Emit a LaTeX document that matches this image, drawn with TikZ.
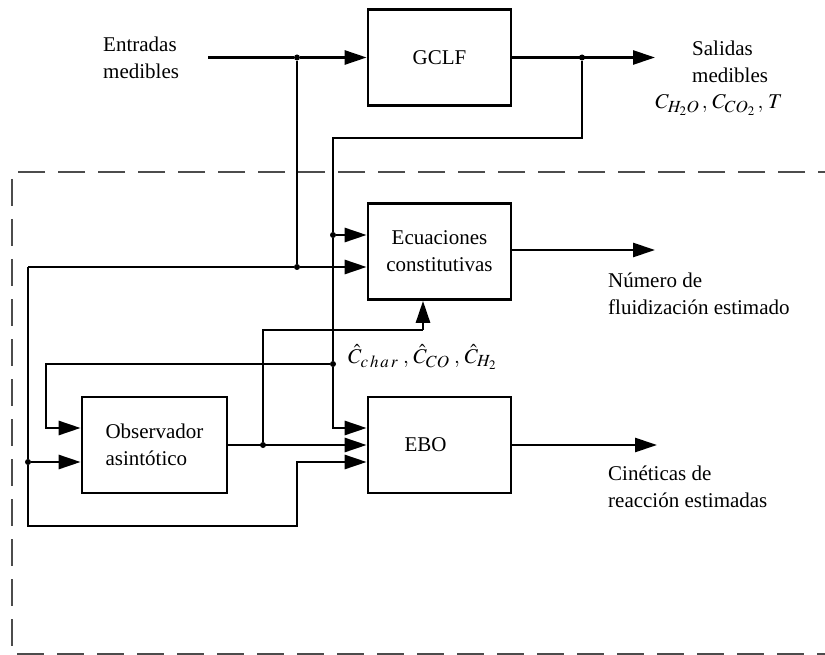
\documentclass[tikz,border=0pt]{standalone}
\usepackage{mathptmx}
\usepackage{fontspec}
\setmainfont{Liberation Serif}
\usetikzlibrary{arrows.meta}
\DeclareMathSizes{21}{21}{17}{13}
\begin{document}
\fontsize{21}{27}\selectfont
\begin{tikzpicture}[x=1pt,y=-1pt,
  blk/.style={draw,line width=2.7pt,minimum width=143pt,minimum height=96pt,inner sep=0pt,align=center},
  wire/.style={line width=2.7pt},
  arr/.style={wire,-{Triangle[length=22pt,width=14pt]}},
  dot/.style={circle,fill,inner sep=0pt,minimum size=6pt},
  lbl/.style={anchor=west,align=left,inner sep=0pt}]
\useasboundingbox (0,0) rectangle (825,655);

% observer region
\begin{scope}
\clip (0,0) rectangle (825,655);
\draw[gray!60!black,line width=1.4pt,dash pattern=on 27pt off 13pt] (845,172) -- (12,172) -- (12,654) -- (845,654);
\end{scope}

% blocks
\node[blk] (gclf) at (439.5,57.5) {GCLF};
\node[blk] (ec) at (439.5,251.5) {Ecuaciones\\constitutivas};
\node[blk,minimum width=145pt,align=left] (obs) at (154.5,445) {Observador\\asint\'otico};
\node[blk] (ebo) at (439.5,445) {EBO\hspace*{28pt}};

% junctions and free ends
\coordinate (in0) at (208,57.5);
\node[dot] (j1) at (297,57.5) {};
\node[dot] (j2) at (297,267) {};
\coordinate (l1) at (28,267);
\node[dot] (j3) at (28,462) {};
\coordinate (l2) at (28,526);
\coordinate (l3) at (297,526);
\node[dot] (j4) at (582,57.5) {};
\coordinate (out1) at (655,57.5);
\coordinate (r1) at (582,138);
\coordinate (r2) at (333,138);
\node[dot] (j5) at (333,235) {};
\node[dot] (j6) at (333,364) {};
\coordinate (f1) at (46,364);
\node[dot] (j7) at (263,445) {};
\coordinate (u1) at (263,330);
\coordinate (u2) at (423,330);
\coordinate (out2) at (655,250);
\coordinate (out3) at (657,445);

% measured inputs
\draw[wire] (in0) -- (j1);
\draw[arr] (j1) -- (j1 -| gclf.west);
\draw[wire] (j1) -- (j2);
\draw[arr] (l1) -- (j2) -- (j2 -| ec.west);
\draw[wire] (l1) -- (j3);
\draw[arr] (j3) -- (j3 -| obs.west);
\draw[arr] (j3) -- (l2) -- (l3) -- (l3 |- 0,462) -- (ebo.west |- 0,462);

% measured outputs
\draw[arr] (gclf.east) -- (out1);
\draw[wire] (j4) -- (r1) -- (r2) -- (j5);
\draw[arr] (j5) -- (j5 -| ec.west);
\draw[wire] (j5) -- (j6);
\draw[arr] (j6) -- (j6 |- 0,428) -- (ebo.west |- 0,428);
\draw[arr] (j6) -- (f1) -- (f1 |- 0,428) -- (obs.west |- 0,428);

% estimated concentrations
\draw[arr] (obs.east) -- (ebo.west);
\draw[wire] (j7) -- (u1) -- (u2);
\draw[arr] (u2) -- (u2 |- ec.south);

% estimated outputs
\draw[arr] (ec.east |- out2) -- (out2);
\draw[arr] (ebo.east) -- (out3);

% labels
\node[lbl] (tin) at (103,57.5) {Entradas\\medibles};
\node[lbl] (tout) at (692,61.5) {Salidas\\medibles};
\node[anchor=center,inner sep=0pt] (tmeas) at (719,105) {$C_{H_2O}\,,\,C_{CO_2}\,,\,T$};
\node[anchor=west,inner sep=0pt] (test) at (348,357) {$\hat{C}_{c\,h\,a\,r}\;,\,\hat{C}_{CO}\;,\,\hat{C}_{H_2}$};
\node[lbl] (tfl) at (608,293.5) {N\'umero de\\fluidizaci\'on estimado};
\node[lbl] (tkin) at (608,487) {Cin\'eticas de\\reacci\'on estimadas};
\end{tikzpicture}
\end{document}
